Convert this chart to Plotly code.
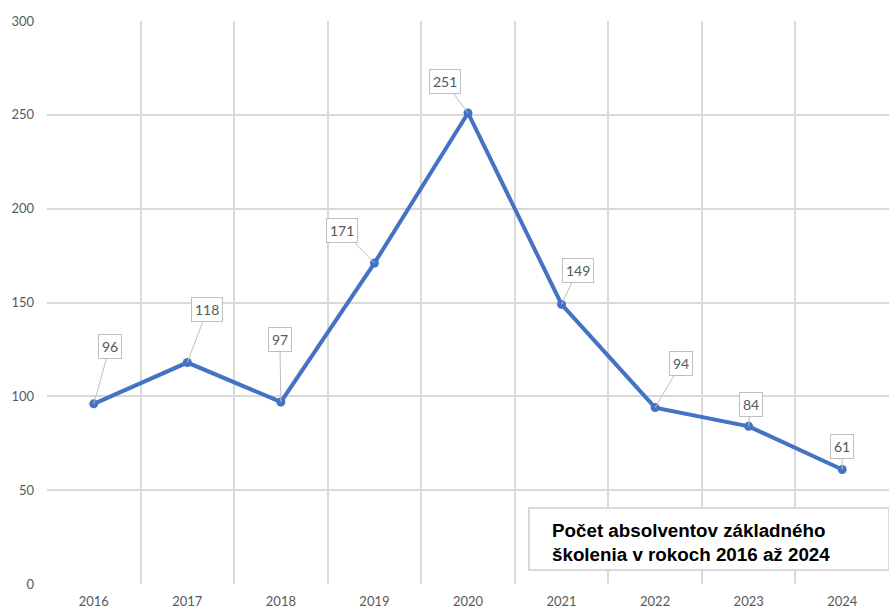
"""Line chart: graduates of basic training per year, 2016-2024."""

import plotly.graph_objects as go

years = ["2016", "2017", "2018", "2019", "2020", "2021", "2022", "2023", "2024"]
graduates = [96, 118, 97, 171, 251, 149, 94, 84, 61]
title_lines = ["Počet absolventov základného", "školenia v rokoch 2016 až 2024"]

# callout offsets (px) from each point to its label box
label_offsets = [(16, -57), (20, -53), (-1, -62), (-32, -33), (-23, -31),
                 (16, -34), (26, -44), (2, -22), (0, -23)]

GRID = "#d9d9d9"
TEXT = "#595959"
LINE = "#4472C4"
FONT = "Lato, 'Open Sans', sans-serif"

x_pos = list(range(len(years)))

fig = go.Figure(
    go.Scatter(
        x=x_pos,
        y=graduates,
        mode="lines+markers",
        line=dict(color=LINE, width=4),
        marker=dict(color=LINE, size=9),
        hoverinfo="skip",
    )
)

for i, (val, (ax, ay)) in enumerate(zip(graduates, label_offsets)):
    fig.add_annotation(
        x=i, y=val, text=str(val),
        showarrow=True, arrowhead=0, arrowwidth=1, arrowcolor="#bfbfbf",
        ax=ax, ay=ay,
        font=dict(family=FONT, size=14, color=TEXT),
        bgcolor="white", bordercolor="#bfbfbf", borderwidth=1, borderpad=3,
    )

# title box in the lower right corner
fig.add_shape(
    type="rect", xref="paper", yref="paper",
    x0=(529 - 47) / 842, x1=1.0,
    y0=(584 - 570) / 563, y1=(584 - 508) / 563,
    line=dict(color=GRID, width=2), fillcolor="white", layer="above",
)
fig.add_annotation(
    xref="paper", yref="paper",
    x=(550 - 47) / 842, y=(584 - 542) / 563,
    xanchor="left", yanchor="middle", align="left",
    text="<br>".join(f"<b>{t}</b>" for t in title_lines),
    showarrow=False,
    font=dict(family="Arial, 'Liberation Sans', sans-serif", size=18.8, color="black"),
)

fig.update_layout(
    width=889, height=610,
    margin=dict(l=47, r=0, t=21, b=26),
    plot_bgcolor="white", paper_bgcolor="white",
    showlegend=False,
    font=dict(family=FONT, color=TEXT),
)
fig.update_xaxes(
    range=[-0.5, 8.5], automargin=False,
    tickvals=x_pos, ticktext=years,
    showgrid=False, zeroline=False, showline=False,
    ticks="", ticklabelstandoff=8,
    tickfont=dict(size=13, color=TEXT, family=FONT),
    minor=dict(tickvals=[i - 0.5 for i in range(len(years) + 1)],
               showgrid=True, gridcolor=GRID, gridwidth=1.5),
)
fig.update_yaxes(
    range=[0, 300], dtick=50, automargin=False,
    showgrid=True, gridcolor=GRID, gridwidth=1.5,
    zeroline=False, showline=False, ticks="",
    ticklabelstandoff=12,
    tickfont=dict(size=13, color=TEXT, family=FONT),
)

# the page body has an 8px default margin; drop it so the chart fills the window
fig.write_html(
    "out.html",
    config={"displayModeBar": False},
    post_script="document.body.style.margin = '0';",
)
